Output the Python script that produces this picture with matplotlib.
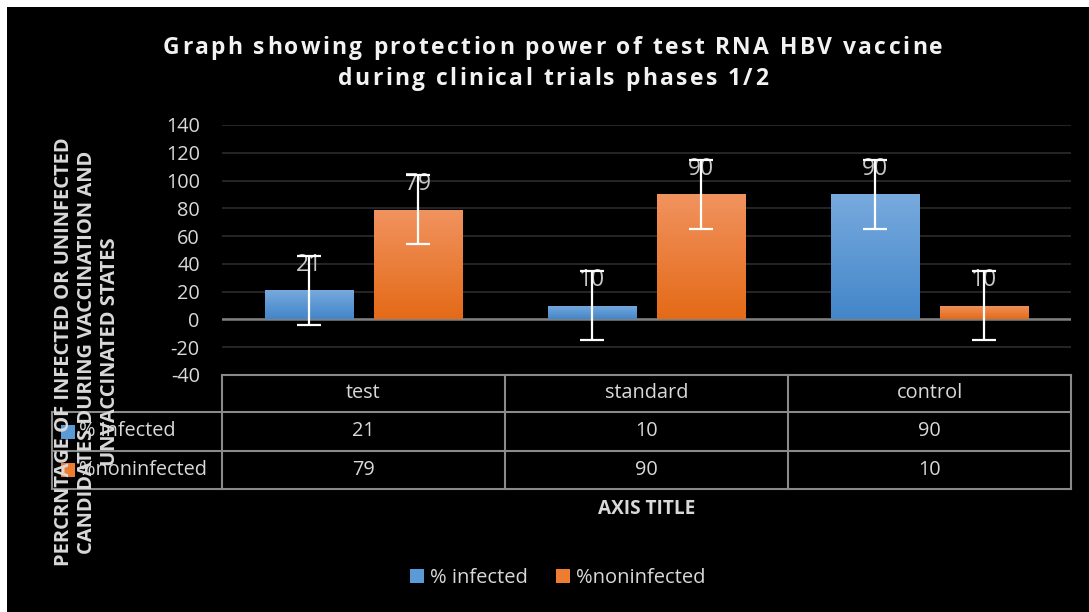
import matplotlib
matplotlib.use("Agg")
import matplotlib.pyplot as plt
import numpy as np
from matplotlib.patches import Rectangle
from matplotlib.lines import Line2D
from matplotlib.colors import LinearSegmentedColormap
from matplotlib.font_manager import FontProperties
import matplotlib.transforms as mtransforms

# ---------------- data ----------------
categories = ["test", "standard", "control"]
series_names = ["% infected", "%noninfected"]
infected = [21, 10, 90]
noninfected = [79, 90, 10]
err_infected = [25, 25, 25]
err_noninfected = [25, 25, 25]
yticks = [-40, -20, 0, 20, 40, 60, 80, 100, 120, 140]
title_lines = ["Graph showing protection power of test RNA HBV vaccine",
               "during clinical trials phases 1/2"]
ylabel = ("PERCRNTAGE OF INFECTED OR UNINFECTED\n"
          "CANDIDATES DURING VACCINATION AND\n"
          "UNVACCINATED STATES")
xlabel = "AXIS TITLE"

# ---------------- style ----------------
W, H, DPI = 1089, 612, 100
FONT = "Open Sans"
TXT = "#d9d9d9"
GRID = "#262626"
TABLE = "#8a8a8a"
BLUE_TOP, BLUE_BOT = "#78aade", "#4386c9"
ORG_TOP, ORG_BOT = "#f19360", "#e46a17"
BLUE_KEY, ORG_KEY = "#5b9bd5", "#ed7d31"

plt.rcParams["font.family"] = [FONT, "DejaVu Sans"]

fig = plt.figure(figsize=(W / DPI, H / DPI), dpi=DPI)
fig.patch.set_facecolor("white")
fig.patches.append(Rectangle((7 / W, 0), 1, 1 - 7 / H, transform=fig.transFigure,
                             facecolor="black", edgecolor="none", zorder=-10))


def fx(px):
    return px / W


def fy(py):
    return 1 - py / H


# ---------------- main axes ----------------
ax = fig.add_axes([fx(222), fy(375), fx(1071) - fx(222), fy(125) - fy(375)])
ax.set_facecolor("none")
x = np.arange(len(categories))
off = 0.1917
bw = 0.311

err_kw = dict(ecolor="white", elinewidth=1.6, capsize=8.5, capthick=1.6, zorder=6)
b1 = ax.bar(x - off, infected, width=bw, yerr=err_infected, error_kw=err_kw, zorder=3)
b2 = ax.bar(x + off, noninfected, width=bw, yerr=err_noninfected, error_kw=err_kw, zorder=3)

grad = np.linspace(0, 1, 256).reshape(-1, 1)
for bars, (ctop, cbot) in ((b1, (BLUE_TOP, BLUE_BOT)), (b2, (ORG_TOP, ORG_BOT))):
    cmap = LinearSegmentedColormap.from_list("g", [cbot, ctop])
    for rect in bars:
        rect.set_facecolor("none")
        rect.set_edgecolor("none")
        x0, y0 = rect.get_xy()
        w, h = rect.get_width(), rect.get_height()
        im = ax.imshow(grad, cmap=cmap, extent=[x0, x0 + w, y0, y0 + h],
                       aspect="auto", origin="lower", zorder=3, interpolation="bilinear")
        im.set_clip_path(rect)

for bars, vals in ((b1, infected), (b2, noninfected)):
    for rect, v in zip(bars, vals):
        ax.annotate(str(v), xy=(rect.get_x() + rect.get_width() / 2, v),
                    xytext=(0, 18.2), textcoords="offset points",
                    ha="center", va="center", fontsize=16.5, color="#c8c8c8", zorder=5)

ax.set_xlim(-0.5, 2.5)
ax.set_ylim(-40, 140)
ax.set_yticks(yticks)
ax.set_yticklabels([str(t) for t in yticks])
ax.set_xticks([])
ax.yaxis.grid(True, color=GRID, lw=1.4)
ax.set_axisbelow(True)
ax.axhline(0, color="#808080", lw=1.8, zorder=2)
for s in ax.spines.values():
    s.set_visible(False)
ax.tick_params(axis="y", length=0, pad=16, labelsize=14.3, labelcolor=TXT)

# ---------------- data table ----------------
bt = mtransforms.blended_transform_factory(ax.transData, fig.transFigure)
col_edges = [-0.5, 0.5, 1.5, 2.5]
label_left = -0.5 - 170 / 283
row_y = [375, 412, 451, 489]  # pixel rows: header / infected / noninfected
lkw = dict(color=TABLE, lw=1.5, transform=bt, clip_on=False)

fig.add_artist(Line2D([col_edges[0], col_edges[-1]], [fy(row_y[0])] * 2, **lkw))
for ry in row_y[1:]:
    fig.add_artist(Line2D([label_left, col_edges[-1]], [fy(ry)] * 2, **lkw))
for ce in col_edges:
    fig.add_artist(Line2D([ce, ce], [fy(row_y[0]), fy(row_y[-1])], **lkw))
fig.add_artist(Line2D([label_left, label_left], [fy(row_y[1]), fy(row_y[-1])], **lkw))

hy = fy((row_y[0] + row_y[1]) / 2)
for i, c in enumerate(categories):
    fig.text(x[i], hy, c, transform=bt, ha="center", va="center", fontsize=14.3, color=TXT)
for r, (name, vals, key) in enumerate(((series_names[0], infected, BLUE_KEY),
                                        (series_names[1], noninfected, ORG_KEY))):
    cy = (row_y[r + 1] + row_y[r + 2]) / 2
    for i, v in enumerate(vals):
        fig.text(x[i], fy(cy), str(v), transform=bt, ha="center", va="center",
                 fontsize=14.3, color=TXT)
    fig.patches.append(Rectangle((fx(61), fy(cy + 7)), fx(14), 14 / H,
                                 transform=fig.transFigure, facecolor=key, edgecolor="none"))
    fig.text(fx(79), fy(cy), name, ha="left", va="center", fontsize=14.3, color=TXT)

# ---------------- axis titles ----------------
fig.text(fx(87), fy(352), ylabel, rotation=90, ha="center", va="center",
         multialignment="center", fontsize=14.5, fontweight="bold", color=TXT,
         linespacing=1.17)
fig.text(fx(646.5), fy(509), xlabel, ha="center", va="center", fontsize=13.7,
         fontweight="bold", color=TXT)

# ---------------- legend ----------------
handles = [Rectangle((0, 0), 1, 1, facecolor=BLUE_KEY, edgecolor="none"),
           Rectangle((0, 0), 1, 1, facecolor=ORG_KEY, edgecolor="none")]
fig.legend(handles, series_names, loc="center", bbox_to_anchor=(fx(558), fy(578)),
           ncol=2, frameon=False, fontsize=14.5, labelcolor=TXT, handlelength=0.7,
           handleheight=0.7, handletextpad=0.3, columnspacing=1.4)

# ---------------- letter-spaced title ----------------
renderer = fig.canvas.get_renderer()
tprop = FontProperties(family=FONT, weight="bold", size=16.5)


def tw(s):
    return renderer.get_text_width_height_descent(s, tprop, ismath=False)[0]


bar_w = tw("|")


def pw(s):
    return tw(s + "|") - bar_w


natural = pw(title_lines[0])
spacing = (780 - natural) / (len(title_lines[0]) - 1)
for line, base in zip(title_lines, (54, 85)):
    total = pw(line) + spacing * (len(line) - 1)
    start = 553 - total / 2
    for i, ch in enumerate(line):
        if ch == " ":
            continue
        px = start + pw(line[:i]) + i * spacing
        fig.text(fx(px), fy(base), ch, fontproperties=tprop, ha="left",
                 va="baseline", color="#f2f2f2")

fig.savefig("out.png", dpi=DPI, facecolor=fig.get_facecolor())
